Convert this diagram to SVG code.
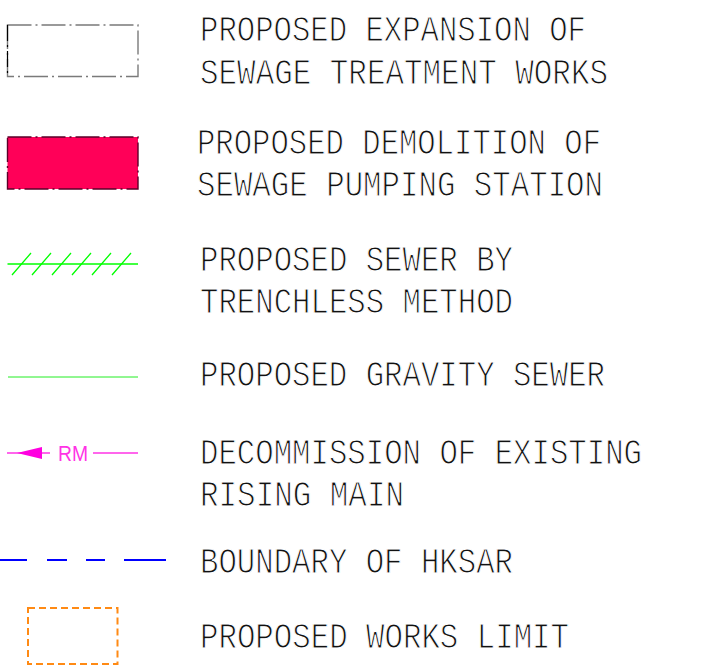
<svg xmlns="http://www.w3.org/2000/svg" width="712" height="670" viewBox="0 0 712 670">
<style>
.t{font-family:"Liberation Mono","DejaVu Sans Mono",monospace;font-size:36px;fill:#111;stroke:#fff;stroke-width:1.1px}
.g{fill:none;stroke:#00ff00;stroke-width:1.3}
</style>
<rect width="712" height="670" fill="#fff"/>
<g id="sym-expansion">
<rect x="7.5" y="25" width="130.5" height="51.5" fill="none" stroke="#7a7a7a" stroke-width="1.4" stroke-dasharray="24 4 2 4"/>
<line x1="7.5" y1="25" x2="7.5" y2="76.5" stroke="#000" stroke-width="1.2" stroke-dasharray="16 4 2 4"/>
</g>
<g id="sym-demolition">
<rect x="7.5" y="137" width="130.5" height="52" fill="#ff0058" stroke="#5a0028" stroke-width="1.4" stroke-dasharray="24 4 2 4"/>
</g>
<g id="sym-trenchless">
<line class="g" x1="7.5" y1="264" x2="138" y2="264"/>
<path class="g" d="M12 275L31 253M32 275L51 253M52 275L71 253M72 275L91 253M92 275L111 253M112 275L131 253"/>
</g>
<g id="sym-gravity">
<line x1="8" y1="377" x2="138" y2="377" stroke="#22ee22" stroke-width="1"/>
</g>
<g id="sym-rising-main">
<line x1="7" y1="453" x2="50" y2="453" stroke="#ff33e6" stroke-width="1.3"/>
<polygon points="17,453 42,447 42,459" fill="#ff00e0"/>
<text x="58" y="461" font-family="Liberation Sans, Arial, sans-serif" font-size="22" fill="#ff33e6" textLength="30" lengthAdjust="spacingAndGlyphs">RM</text>
<line x1="93" y1="453" x2="138" y2="453" stroke="#ff33e6" stroke-width="1.3"/>
</g>
<g id="sym-boundary">
<path d="M0 560H27M47 560H67M86 560H105M124 560H166" stroke="#0000ff" stroke-width="2" fill="none"/>
</g>
<g id="sym-works-limit">
<rect x="28" y="608" width="89.5" height="56" fill="none" stroke="#ff8a14" stroke-width="2" stroke-dasharray="7 4"/>
</g>
<g id="labels">
<text class="t" x="200" y="41" textLength="386" lengthAdjust="spacingAndGlyphs">PROPOSED EXPANSION OF</text>
<text class="t" x="200" y="84" textLength="408" lengthAdjust="spacingAndGlyphs">SEWAGE TREATMENT WORKS</text>
<text class="t" x="197" y="154" textLength="404" lengthAdjust="spacingAndGlyphs">PROPOSED DEMOLITION OF</text>
<text class="t" x="197" y="196" textLength="406" lengthAdjust="spacingAndGlyphs">SEWAGE PUMPING STATION</text>
<text class="t" x="200" y="271" textLength="313" lengthAdjust="spacingAndGlyphs">PROPOSED SEWER BY</text>
<text class="t" x="200" y="313" textLength="313" lengthAdjust="spacingAndGlyphs">TRENCHLESS METHOD</text>
<text class="t" x="200" y="386" textLength="405" lengthAdjust="spacingAndGlyphs">PROPOSED GRAVITY SEWER</text>
<text class="t" x="200" y="464" textLength="442" lengthAdjust="spacingAndGlyphs">DECOMMISSION OF EXISTING</text>
<text class="t" x="200" y="506" textLength="204" lengthAdjust="spacingAndGlyphs">RISING MAIN</text>
<text class="t" x="200" y="573" textLength="313" lengthAdjust="spacingAndGlyphs">BOUNDARY OF HKSAR</text>
<text class="t" x="200" y="648" textLength="369" lengthAdjust="spacingAndGlyphs">PROPOSED WORKS LIMIT</text>
</g>
</svg>
